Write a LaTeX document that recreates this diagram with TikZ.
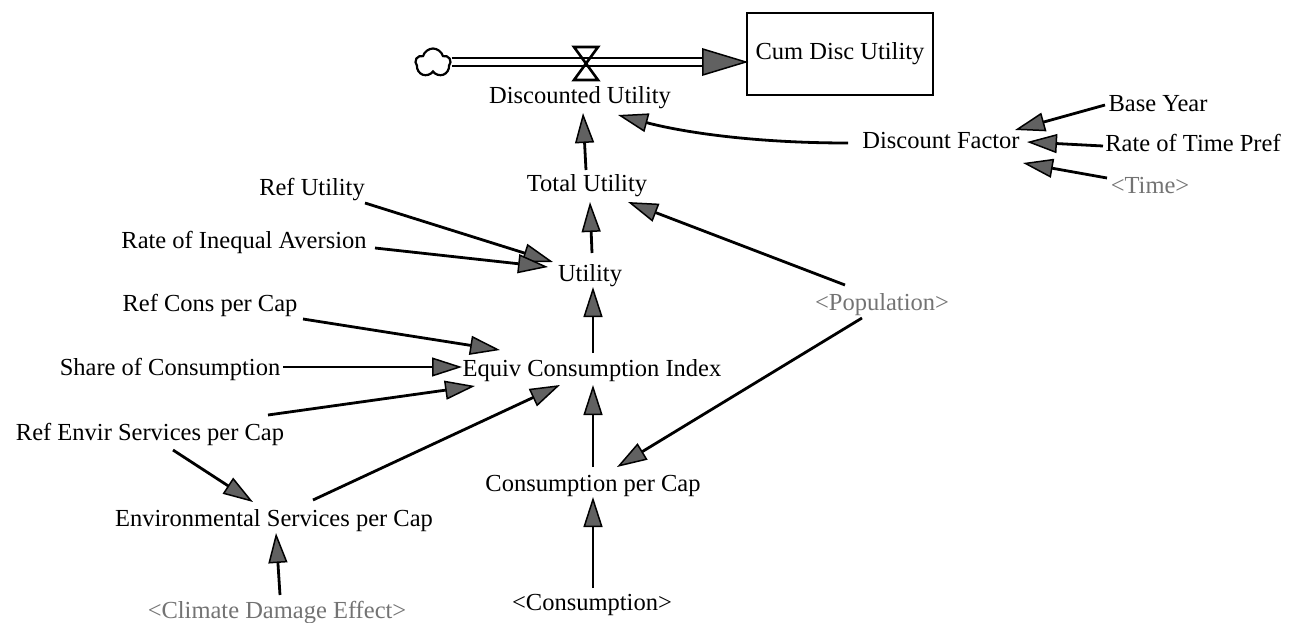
\documentclass[tikz,border=0pt]{standalone}
\usepackage{fontspec}
\setmainfont{Liberation Serif}
\usetikzlibrary{arrows.meta,shapes.symbols}
\begin{document}
\begin{tikzpicture}[x=1pt,y=-1pt,
  lbl/.style={inner sep=0pt, font=\fontsize{24.5}{28}\selectfont, text height=16pt, text depth=0pt},
  ghost/.style={lbl, text=black!55},
  conn/.style={line width=2.8pt, -{Triangle[length=30pt,width=19pt,fill=black!62,line width=1.5pt]}},
  stockbox/.style={draw, line width=2.5pt, minimum width=186pt, minimum height=82pt, inner sep=0pt, font=\fontsize{24.5}{28}\selectfont},
  pipe/.style={line width=2.4pt, double distance=5.5pt},
  valveshape/.style={line width=2.6pt},
  pipehead/.style={fill=black!62, draw=black, line width=1.5pt},
  cloudshape/.style={cloud, draw, cloud puffs=5, aspect=1.2, minimum width=35pt, minimum height=29pt, inner sep=0pt, line width=2.2pt}
  ]
\useasboundingbox (0,0) rectangle (1302,622);

% stock and flow
\node[cloudshape] (cloud) at (433,63) {};
\node[stockbox] (cum) at (840,54) {Cum Disc Utility};
\coordinate (valve) at (586,62);
\coordinate (pipeend) at ([shift={(0,8)}]cum.west);
\draw[pipe] (cloud.east |- pipeend) -- ([shift={(-43,0)}]pipeend);
\filldraw[pipehead] (pipeend) -- ([shift={(-43,-13)}]pipeend) -- ([shift={(-43,13)}]pipeend) -- cycle;
\draw[valveshape] ([shift={(-12,-15)}]valve) -- ([shift={(12,-15)}]valve) -- ([shift={(-12,18)}]valve) -- ([shift={(12,18)}]valve) -- cycle;

% variables
\node[lbl] (disc) at (580,95) {Discounted Utility};
\node[lbl] (total) at (587,183) {Total Utility};
\node[lbl] (util) at (590,273) {Utility};
\node[lbl] (eci) at (592,368) {Equiv Consumption Index};
\node[lbl] (cpc) at (593,483) {Consumption per Cap};
\node[lbl] (cons) at (592,602) {<Consumption>};
\node[lbl] (envs) at (274,518) {Environmental Services per Cap};
\node[ghost] (climate) at (277,610) {<Climate Damage Effect>};
\node[lbl] (refenv) at (150,432) {Ref Envir Services per Cap};
\node[lbl] (share) at (170,367) {Share of Consumption};
\node[lbl] (refcons) at (210,303) {Ref Cons per Cap};
\node[lbl] (rate) at (244,240) {Rate of Inequal Aversion};
\node[lbl] (refutil) at (312,187) {Ref Utility};
\node[ghost] (pop) at (882,302) {<Population>};
\node[lbl] (df) at (941,140) {Discount Factor};
\node[lbl] (base) at (1158,103) {Base Year};
\node[lbl] (rtp) at (1193,143) {Rate of Time Pref};
\node[ghost] (time) at (1150,185) {<Time>};

% connectors
\draw[conn] ([shift={(-1,-13)}]total.center) -- ([shift={(3,18)}]disc.center);
\draw[conn] ([shift={(-93,3)}]df.center) .. controls +(-100,0) and +(60,16) .. ([shift={(38,20)}]disc.center);
\draw[conn] ([shift={(-53,2)}]base.center) -- ([shift={(74,-10)}]df.center);
\draw[conn] ([shift={(-90,3)}]rtp.center) -- ([shift={(86,2)}]df.center);
\draw[conn] ([shift={(-43,-7)}]time.center) -- ([shift={(82,23)}]df.center);
\draw[conn] ([shift={(2,-20)}]util.center) -- ([shift={(3,19)}]total.center);
\draw[conn] ([shift={(53,16)}]refutil.center) -- ([shift={(-37,-11)}]util.center);
\draw[conn] ([shift={(131,8)}]rate.center) -- ([shift={(-42,-6)}]util.center);
\draw[conn] ([shift={(1,-15)}]eci.center) -- ([shift={(3,14)}]util.center);
\draw[conn] ([shift={(-37,-17)}]pop.center) -- ([shift={(41,19)}]total.center);
\draw[conn] ([shift={(93,16)}]refcons.center) -- ([shift={(-92,-18)}]eci.center);
\draw[conn] ([shift={(113,0)}]share.center) -- ([shift={(-130,-1)}]eci.center);
\draw[conn] ([shift={(118,-17)}]refenv.center) -- ([shift={(-117,18)}]eci.center);
\draw[conn] ([shift={(39,-18)}]envs.center) -- ([shift={(-32,17)}]eci.center);
\draw[conn] ([shift={(0,-16)}]cpc.center) -- ([shift={(1,17)}]eci.center);
\draw[conn] ([shift={(-20,16)}]pop.center) -- ([shift={(24,-16)}]cpc.center);
\draw[conn] ([shift={(23,18)}]refenv.center) -- ([shift={(-21,-16)}]envs.center);
\draw[conn] ([shift={(3,-15)}]climate.center) -- ([shift={(2,15)}]envs.center);
\draw[conn] ([shift={(1,-14)}]cons.center) -- ([shift={(0,14)}]cpc.center);
\end{tikzpicture}
\end{document}
